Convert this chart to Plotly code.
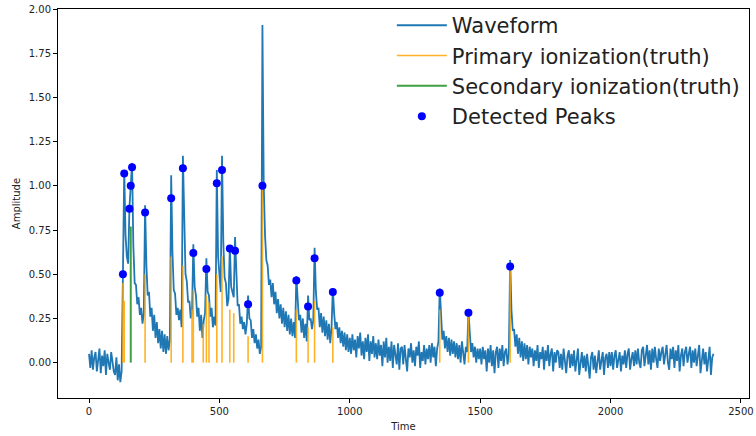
import plotly.graph_objects as go

# ---- data ----
time_step = 5
waveform = [
    # 0-95
    0.05, -0.03, 0.07, -0.04, 0.03, 0.06, -0.05, 0.02, 0.08, -0.06, 0.04, -0.02, 0.07, -0.07, 0.05, 0.00, -0.04, 0.06, -0.01, -0.05,
    # 100-195
    -0.07, 0.03, -0.10, -0.01, -0.11, -0.05, 0.50, 1.09, 0.72, 0.60, 0.56, 0.88, 1.00, 1.13, 0.66, 0.45, 0.44, 0.33, 0.37, 0.27,
    # 200-295
    0.31, 0.22, 0.28, 0.89, 0.55, 0.38, 0.40, 0.26, 0.31, 0.18, 0.27, 0.14, 0.23, 0.11, 0.19, 0.08, 0.18, 0.06, 0.16, 0.05,
    # 300-395
    0.15, 0.07, 0.13, 1.06, 0.62, 0.41, 0.39, 0.27, 0.31, 0.24, 0.30, 0.20, 1.17, 0.70, 0.50, 0.46, 0.34, 0.35, 0.25, 0.29,
    # 400-495
    0.67, 0.43, 0.38, 0.26, 0.31, 0.18, 0.27, 0.14, 0.24, 0.28, 0.59, 0.40, 0.38, 0.26, 0.31, 0.20, 0.26, 0.21, 1.09, 0.60,
    # 500-595
    0.48, 0.40, 1.17, 0.68, 0.48, 0.45, 0.32, 0.36, 0.66, 0.43, 0.40, 0.37, 0.71, 0.45, 0.32, 0.33, 0.22, 0.26, 0.19, 0.23,
    # 600-695
    0.16, 0.22, 0.38, 0.25, 0.24, 0.14, 0.19, 0.11, 0.16, 0.08, 0.13, 0.05, 0.09, 1.91, 1.00, 0.72, 0.58, 0.55, 0.44, 0.47,
    # 700-795
    0.37, 0.45, 0.33, 0.40, 0.28, 0.36, 0.25, 0.33, 0.22, 0.31, 0.20, 0.29, 0.18, 0.27, 0.16, 0.25, 0.15, 0.23, 0.14, 0.49,
    # 800-895
    0.33, 0.24, 0.27, 0.17, 0.25, 0.14, 0.22, 0.12, 0.38, 0.24, 0.25, 0.19, 0.24, 0.65, 0.40, 0.30, 0.31, 0.20, 0.28, 0.17,
    # 900-995
    0.26, 0.15, 0.24, 0.13, 0.22, 0.11, 0.20, 0.42, 0.28, 0.19, 0.23, 0.14, 0.20, 0.11, 0.18, 0.09, 0.17, 0.07, 0.16, 0.06,
    # 1000-1095
    0.14, 0.05, 0.16, 0.07, 0.13, 0.03, 0.15, 0.08, 0.17, 0.04, 0.12, 0.02, 0.14, 0.06, 0.16, 0.01, 0.12, 0.05, 0.15, 0.03,
    # 1100-1195
    0.11, 0.02, 0.13, 0.04, 0.10, -0.02, 0.12, 0.03, 0.14, 0.00, 0.09, 0.01, 0.12, -0.03, 0.10, 0.05, -0.01, 0.11, -0.04, 0.08,
    # 1200-1295
    0.09, -0.01, 0.10, 0.02, -0.05, 0.08, 0.03, 0.11, 0.00, 0.07, -0.02, 0.09, 0.04, 0.12, -0.03, 0.06, 0.01, 0.10, -0.01, 0.08,
    # 1300-1395
    0.02, 0.10, 0.00, 0.11, 0.03, 0.09, -0.02, 0.08, 0.12, 0.42, 0.22, 0.13, 0.18, 0.08, 0.15, 0.06, 0.14, 0.04, 0.13, 0.05,
    # 1400-1495
    0.12, 0.03, 0.11, 0.02, 0.10, 0.00, 0.12, 0.04, -0.01, 0.09, 0.06, 0.29, 0.14, 0.06, 0.11, 0.03, 0.09, 0.00, 0.08, 0.02,
    # 1500-1595
    0.08, -0.01, 0.09, 0.02, 0.07, -0.05, 0.08, 0.00, 0.10, -0.02, 0.07, -0.06, 0.06, 0.09, -0.03, 0.08, 0.01, 0.10, -0.02, 0.06,
    # 1600-1695
    0.08, -0.01, 0.05, 0.58, 0.30, 0.18, 0.19, 0.09, 0.16, 0.05, 0.14, 0.03, 0.12, 0.01, 0.11, 0.02, 0.10, -0.01, 0.09, 0.03,
    # 1700-1795
    0.08, -0.02, 0.07, 0.01, 0.10, -0.03, 0.06, 0.02, 0.09, -0.04, 0.07, 0.01, 0.10, -0.02, 0.05, 0.08, -0.05, 0.06, 0.00, 0.07,
    # 1800-1895
    0.06, -0.03, 0.05, -0.04, 0.08, 0.00, -0.06, 0.04, 0.07, -0.03, 0.05, -0.02, 0.07, -0.05, 0.03, 0.08, -0.07, 0.02, 0.06, -0.03,
    # 1900-1995
    0.04, -0.05, 0.05, -0.02, -0.09, 0.03, 0.06, -0.04, 0.04, -0.06, 0.02, 0.07, -0.04, 0.01, 0.06, -0.07, 0.03, 0.05, -0.03, 0.06,
    # 2000-2095
    -0.02, 0.06, -0.04, 0.04, 0.07, -0.03, 0.03, 0.06, -0.05, 0.04, -0.01, 0.07, -0.03, 0.05, 0.08, -0.04, 0.02, 0.06, -0.02, 0.07,
    # 2100-2195
    -0.01, 0.08, 0.00, -0.03, 0.07, 0.09, -0.02, 0.05, 0.10, -0.01, 0.07, -0.04, 0.08, 0.00, 0.09, 0.02, -0.03, 0.08, 0.01, 0.06,
    # 2200-2295
    0.09, -0.01, 0.06, 0.10, 0.00, -0.04, 0.08, 0.02, 0.09, -0.03, 0.07, 0.01, 0.10, -0.05, 0.04, 0.08, -0.02, 0.06, 0.09, 0.00,
    # 2300-2395
    0.05, 0.09, -0.03, 0.07, 0.00, 0.08, -0.02, 0.04, 0.10, -0.06, 0.03, 0.08, -0.01, 0.06, -0.05, 0.04, 0.09, -0.07, 0.03, 0.05,
]
time = [i * time_step for i in range(len(waveform))]

primary_times = [130, 135, 215, 315, 360, 395, 400, 438, 450, 460, 490, 510, 540, 555, 610, 665,
                 795, 840, 865, 935, 1345, 1455, 1615]
primary_heights = [0.45, 0.35, 0.50, 0.60, 0.55, 0.30, 0.41, 0.22, 0.38, 0.34, 0.50, 0.60, 0.30, 0.28, 0.15, 1.00,
                   0.30, 0.20, 0.35, 0.20, 0.30, 0.26, 0.52]

secondary_times = [160]
secondary_heights = [0.77]

peak_times = [130, 135, 155, 160, 165, 215, 315, 360, 400, 450, 490, 510, 540, 560, 610, 665,
              795, 840, 865, 935, 1345, 1455, 1615]
peak_values = [0.50, 1.07, 0.87, 1.00, 1.105, 0.85, 0.93, 1.10, 0.62, 0.53, 1.015, 1.09, 0.646, 0.633, 0.33, 1.00,
               0.465, 0.318, 0.59, 0.40, 0.395, 0.282, 0.544]

x_ticks = [0, 500, 1000, 1500, 2000, 2500]
y_ticks = [0.00, 0.25, 0.50, 0.75, 1.00, 1.25, 1.50, 1.75, 2.00]


def vlines(ts, hs):
    xs, ys = [], []
    for t, h in zip(ts, hs):
        xs += [t, t, None]
        ys += [0, h, None]
    return xs, ys


fig = go.Figure()
fig.add_trace(go.Scatter(x=time, y=waveform, mode="lines", name="Waveform",
                         line=dict(color="#1f77b4", width=1.8)))
px_, py_ = vlines(primary_times, primary_heights)
fig.add_trace(go.Scatter(x=px_, y=py_, mode="lines", name="Primary ionization(truth)",
                         line=dict(color="rgba(255,165,0,0.85)", width=1.6)))
sx_, sy_ = vlines(secondary_times, secondary_heights)
fig.add_trace(go.Scatter(x=sx_, y=sy_, mode="lines", name="Secondary ionization(truth)",
                         line=dict(color="rgba(0,128,0,0.75)", width=2)))
fig.add_trace(go.Scatter(x=peak_times, y=peak_values, mode="markers", name="Detected Peaks",
                         marker=dict(color="#0000ff", size=8)))

axis_common = dict(showline=True, linecolor="black", linewidth=1, mirror=True,
                   ticks="outside", ticklen=4, tickcolor="black", showgrid=False, zeroline=False,
                   tickfont=dict(family="DejaVu Sans", size=10, color="#222"))
fig.update_xaxes(range=[-119, 2531], tickvals=x_ticks, ticktext=[str(v) for v in x_ticks],
                 title=dict(text="Time", font=dict(family="DejaVu Sans", size=10, color="#222"), standoff=6),
                 **axis_common)
fig.update_yaxes(range=[-0.2, 2.0005], tickvals=y_ticks, ticktext=[f"{v:.2f}" for v in y_ticks],
                 title=dict(text="Amplitude", font=dict(family="DejaVu Sans", size=10, color="#222"), standoff=6),
                 **axis_common)

fig.update_layout(
    width=756, height=436,
    margin=dict(l=58, r=7, t=9, b=38, autoexpand=False),
    plot_bgcolor="white", paper_bgcolor="white",
    font=dict(family="DejaVu Sans", color="#222"),
    showlegend=True,
    legend=dict(x=0.994, y=1.010, xanchor="right", yanchor="top",
                bgcolor="rgba(255,255,255,0)", borderwidth=0,
                font=dict(family="DejaVu Sans", size=21, color="#222"),
                itemwidth=50),
)

fig.write_html("out.html")
